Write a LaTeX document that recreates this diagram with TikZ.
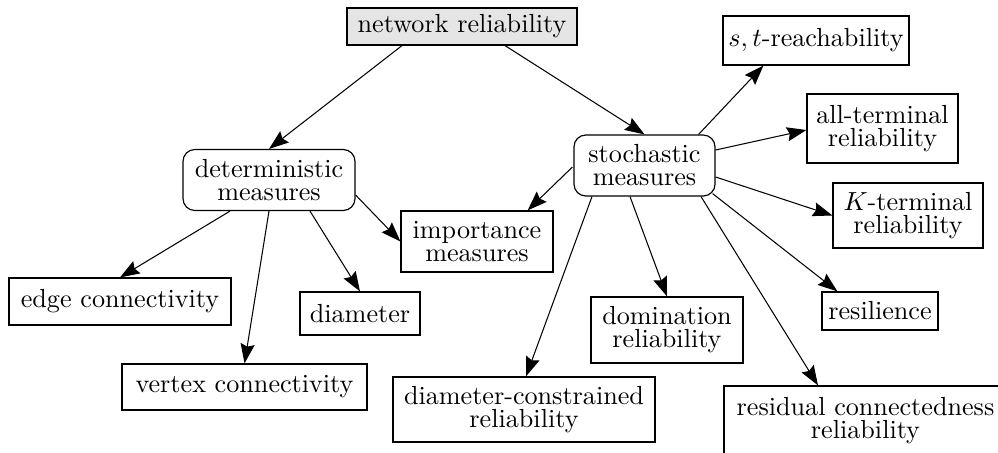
\documentclass[tikz,border=0pt]{standalone}
\usetikzlibrary{arrows.meta,calc}
\tikzset{
  box/.style={draw, line width=0.45pt, rectangle, align=center, inner sep=0pt,
    font=\fontsize{10}{8.8}\selectfont},
  rbox/.style={box, rounded corners=4.5pt},
  root/.style={box, fill=black!10},
  sz/.style 2 args={minimum width=#1*0.3824pt, minimum height=#2*0.3824pt},
  arr/.style={-{Stealth[length=7.5pt,width=5.4pt,inset=1pt]}, line width=0.4pt}
}
\begin{document}
\begin{tikzpicture}[x=0.3824pt,y=-0.3824pt]
\useasboundingbox (0,0) rectangle (998,452);

% top level
\node[root, sz={230}{37}] (net) at (462,26.5) {network reliability};

% the two families of measures
\node[rbox, sz={172}{61}] (det) at (269,180) {deterministic\\measures};
\node[rbox, sz={141}{61}] (sto) at (644.5,165.5) {stochastic\\measures};

% deterministic measures
\node[box, sz={222}{47}] (edge) at (120,301.5) {edge connectivity};
\node[box, sz={245}{46}] (vertex) at (244.5,387) {vertex connectivity};
\node[box, sz={120}{43}] (diam) at (360,313.5) {diameter};
\node[box, sz={152}{61}] (imp) at (477,241.5) {importance\\measures};

% stochastic measures
\node[box, sz={186}{49}] (st) at (816,40.5) {$s,t$-reachability};
\node[box, sz={151}{69}] (all) at (882.5,128.5) {all-terminal\\reliability};
\node[box, sz={150}{65}] (K) at (908,215.5) {$K$-terminal\\reliability};
\node[box, sz={116}{38}] (resil) at (880,311) {resilience};
\node[box, sz={283}{70}] (resid) at (865.5,421) {residual connectedness\\reliability};
\node[box, sz={152}{66}] (domin) at (667,330) {domination\\reliability};
\node[box, sz={262}{65}] (diamcons) at (524,409.5) {diameter-constrained\\reliability};

% connectors
\draw[arr] ($(net.south)+(-60,0)$) -- (det.north);
\draw[arr] ($(net.south)+(43,0)$) -- (sto.north);

\draw[arr] ($(det.south)+(-39,0)$) -- (edge.north);
\draw[arr] (det.south) -- (vertex.north);
\draw[arr] ($(det.south)+(41,0)$) -- (diam.north);
\draw[arr] ($(det.east)+(0,15)$) -- (imp.west);

\draw[arr] ($(sto.west)+(-1,1.5)$) -- ($(imp.north east)+(-26,0)$);
\draw[arr] ($(sto.south)+(-52.5,0)$) -- ($(diamcons.north)+(2,0)$);
\draw[arr] ($(sto.south)+(-14.5,0)$) -- (domin.north);
\draw[arr] ($(sto.south)+(56.5,0)$) -- ($(resid.north)+(-47.5,0)$);
\draw[arr] ($(sto.south east)+(-3,-3)$) -- ($(resil.north west)+(16,0)$);
\draw[arr] ($(sto.east)+(0,11.5)$) -- (K.west);
\draw[arr] ($(sto.east)+(0,-15.5)$) -- ($(all.west)+(0,1.5)$);
\draw[arr] ($(sto.north east)+(-17,0)$) -- ($(st.south west)+(41,0)$);
\end{tikzpicture}
\end{document}
